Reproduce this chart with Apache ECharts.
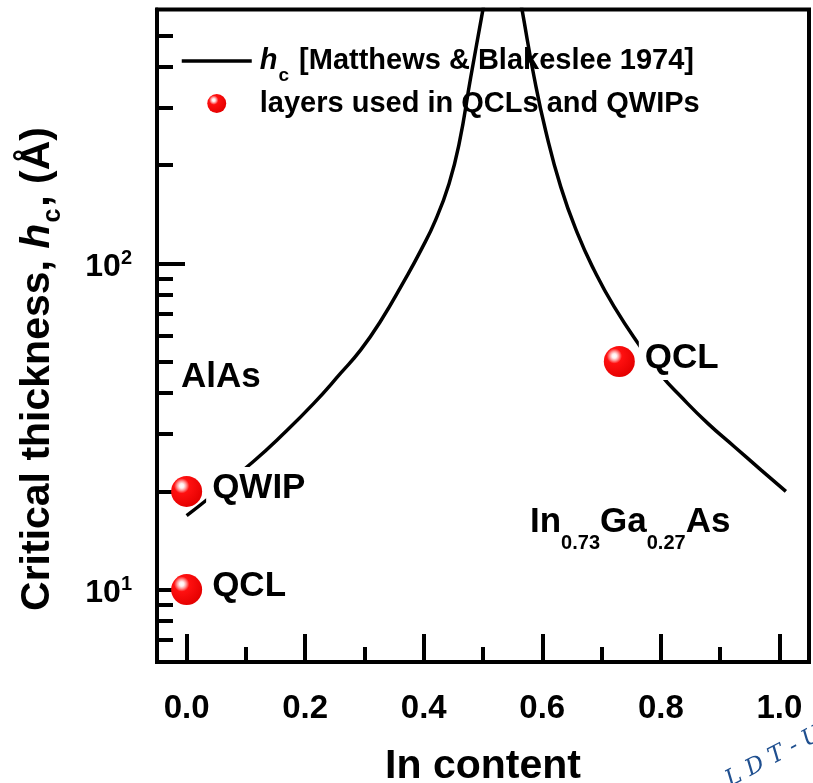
<!DOCTYPE html>
<html><head><meta charset="utf-8">
<script src="https://cdn.jsdelivr.net/npm/echarts@6/dist/echarts.min.js"></script>
<style>html,body{margin:0;padding:0;background:#fff}#c{width:813px;height:783px}</style>
</head><body><div id="c"></div>
<script>
const FONT = '"Liberation Sans", Arial, Helvetica, sans-serif';

// Matthews & Blakeslee critical thickness curve
const curveLeftX  = [0, 0.0405, 0.1126, 0.1586, 0.2149, 0.2599, 0.2937, 0.3274, 0.3668, 0.3949, 0.4203, 0.4427, 0.4596, 0.4793, 0.4991, 0.5072];
const curveLeftY  = [16.85, 19.26, 24.7, 29.46, 37.29, 46.06, 54.29, 66.59, 88.27, 109.4, 136.2, 175.5, 232, 371.8, 589, 711];
const curveRightX = [0.5585, 0.5666, 0.5862, 0.6059, 0.6312, 0.6594, 0.6874, 0.7212, 0.7691, 0.8, 0.8338, 0.8788, 0.9237, 0.9688, 1.011];
const curveRightY = [711, 589, 372.6, 254.1, 171.6, 123.5, 95.4, 73.65, 54.29, 45.5, 39.06, 32.38, 27.46, 23.29, 20.0];

// layers used in QCLs and QWIPs
const layerNames = ['QWIP', 'QCL', 'QCL'];
const layerX = [0, 0, 0.73];
const layerY = [20, 10, 50];

// ticks
const xMajorTicks = [0, 0.2, 0.4, 0.6, 0.8, 1.0];
const xMinorTicks = [0.1, 0.3, 0.5, 0.7, 0.9];
const yMajorTicks = [10, 100];
const yMinorTicks = [7, 8, 9, 20, 30, 40, 50, 60, 70, 80, 90, 200, 300, 400, 500];
const yMin = 6, yMax = 600;

const curveData = curveLeftX.map((x, i) => [x, curveLeftY[i]])
  .concat([[0.53, '-']])
  .concat(curveRightX.map((x, i) => [x, curveRightY[i]]));
const layerData = layerX.map((x, i) => ({ name: layerNames[i], value: [x, layerY[i]] }));

const sphere = {
  type: 'radial', x: 0.34, y: 0.32, r: 0.72,
  colorStops: [
    { offset: 0, color: '#ffffff' },
    { offset: 0.1, color: '#fff0f0' },
    { offset: 0.2, color: '#ff9c9c' },
    { offset: 0.34, color: '#ff1010' },
    { offset: 1, color: '#e40000' }
  ]
};

const L = Math.log10;
const chart = echarts.init(document.getElementById('c'), null, { renderer: 'canvas' });
chart.setOption({
  animation: false,
  backgroundColor: '#fff',
  grid: { left: 157, right: 4, top: 9.5, bottom: 121, outerBoundsMode: 'none', containLabel: false, show: true, borderColor: '#000', borderWidth: 4, backgroundColor: 'transparent' },
  legend: {
    orient: 'vertical', left: 180, top: 37, padding: 0, itemWidth: 70, itemHeight: 19, itemGap: 4,
    selectedMode: false, z: 3,
    data: [{ name: 'hc', itemStyle: { opacity: 0 }, lineStyle: { width: 3.5, color: '#000' } }, { name: 'layers used in QCLs and QWIPs' }],
    formatter: n => n === 'hc' ? '{i|h}{s|c}{n| [Matthews & Blakeslee 1974]}' : '{m|' + n + '}',
    textStyle: {
      color: '#000', fontFamily: FONT, fontWeight: 'bold', fontSize: 29, padding: [0, 0, 0, 3],
      rich: {
        n: { fontSize: 29, fontWeight: 'bold', fontFamily: FONT, color: '#000', lineHeight: 34, verticalAlign: 'middle' },
        i: { fontSize: 29, fontWeight: 'bold', fontStyle: 'italic', fontFamily: FONT, color: '#000', lineHeight: 34, verticalAlign: 'middle' },
        s: { fontSize: 19, fontWeight: 'bold', fontFamily: FONT, color: '#000', lineHeight: 19, padding: [29, 2, 0, 1] },
        m: { fontSize: 29, fontWeight: 'bold', fontFamily: FONT, color: '#000', lineHeight: 34 }
      }
    }
  },
  xAxis: [
    {
      type: 'value', min: -0.05, max: 1.05, position: 'bottom',
      axisLine: { show: true, onZero: false, lineStyle: { color: '#000', width: 4 } },
      axisTick: { show: true, inside: true, length: 28, customValues: xMajorTicks, lineStyle: { color: '#000', width: 4 } },
      axisLabel: { customValues: xMajorTicks, formatter: v => v.toFixed(1), fontSize: 33, fontWeight: 'bold', color: '#000', fontFamily: FONT, margin: 30 },
      splitLine: { show: false },
      name: 'In content', nameLocation: 'middle', nameGap: 84,
      nameTextStyle: { fontSize: 41, fontWeight: 'bold', color: '#000', fontFamily: FONT }
    },
    {
      type: 'value', min: -0.05, max: 1.05, position: 'bottom',
      axisLine: { show: false, onZero: false },
      axisTick: { show: true, inside: true, length: 15, customValues: xMinorTicks, lineStyle: { color: '#000', width: 4 } },
      axisLabel: { show: false }, splitLine: { show: false }
    }
  ],
  yAxis: [
    {
      type: 'log', logBase: 10, min: yMin, max: yMax, position: 'left',
      axisLine: { show: true, onZero: false, lineStyle: { color: '#000', width: 4 } },
      axisTick: { show: false }, axisLabel: { show: false }, splitLine: { show: false }, minorTick: { show: false }
    },
    {
      type: 'value', min: L(yMin), max: L(yMax), position: 'left',
      axisLine: { show: false, onZero: false },
      axisTick: { show: true, inside: true, length: 28, customValues: yMajorTicks.map(L), lineStyle: { color: '#000', width: 4 } },
      axisLabel: {
        customValues: yMajorTicks.map(L), margin: 25,
        formatter: v => '{b|10}{p|' + Math.round(v) + '}',
        rich: {
          b: { fontSize: 32, fontWeight: 'bold', fontFamily: FONT, color: '#000', lineHeight: 46, padding: [8, 0, 0, 0] },
          p: { fontSize: 20, fontWeight: 'bold', fontFamily: FONT, color: '#000', lineHeight: 18, verticalAlign: 'top', padding: [8, 0, 0, 0] }
        }
      },
      splitLine: { show: false }
    },
    {
      type: 'value', min: L(yMin), max: L(yMax), position: 'left',
      axisLine: { show: false, onZero: false },
      axisTick: { show: true, inside: true, length: 16, customValues: yMinorTicks.map(L), lineStyle: { color: '#000', width: 4 } },
      axisLabel: { show: false }, splitLine: { show: false }
    }
  ],
  series: [
    {
      name: 'hc', type: 'line', data: curveData, xAxisIndex: 0, yAxisIndex: 0,
      symbol: 'none', showSymbol: false, smooth: 0.5, connectNulls: false, clip: true, z: 5,
      lineStyle: { color: '#000', width: 3.5 }, itemStyle: { color: '#000' }
    },
    {
      name: 'layers used in QCLs and QWIPs', type: 'scatter', data: layerData, xAxisIndex: 0, yAxisIndex: 0,
      symbol: 'circle', symbolSize: 31, z: 6,
      itemStyle: { color: sphere, opacity: 1 },
      label: {
        show: true, position: 'right', distance: 4, formatter: p => p.name,
        fontSize: 35, fontWeight: 'bold', color: '#000', fontFamily: FONT,
        backgroundColor: '#fff', padding: [5, 3, 3, 6], offset: [0, -3]
      }
    }
  ],
  graphic: [
    {
      type: 'text', x: 38, y: 369, rotation: Math.PI / 2, z: 10,
      style: {
        text: '{n|Critical thickness, }{i|h}{s|c}{n|, (Å)}', align: 'center', verticalAlign: 'middle',
        rich: {
          n: { fontSize: 41, fontWeight: 'bold', fontFamily: FONT, fill: '#000', lineHeight: 46, verticalAlign: 'middle' },
          i: { fontSize: 41, fontWeight: 'bold', fontStyle: 'italic', fontFamily: FONT, fill: '#000', lineHeight: 46, verticalAlign: 'middle' },
          s: { fontSize: 25, fontWeight: 'bold', fontFamily: FONT, fill: '#000', lineHeight: 25, padding: [30, 2, 0, 1] }
        }
      }
    },
    {
      type: 'text', x: 181, y: 377, z: 10,
      style: { text: 'AlAs', fontSize: 35, fontWeight: 'bold', fontFamily: FONT, fill: '#000', align: 'left', verticalAlign: 'middle' }
    },
    {
      type: 'text', x: 530, y: 505, z: 10,
      style: {
        text: '{m|In}{s|0.73}{m|Ga}{s|0.27}{m|As}', align: 'left', verticalAlign: 'top',
        rich: {
          m: { fontSize: 35, fontWeight: 'bold', fontFamily: FONT, fill: '#000', lineHeight: 40, verticalAlign: 'top' },
          s: { fontSize: 20, fontWeight: 'bold', fontFamily: FONT, fill: '#000', lineHeight: 20, padding: [37, 0, 0, 0] }
        }
      }
    },
    {
      type: 'text', x: 774, y: 757, rotation: 0.48, z: 10,
      style: { text: 'L D T - U', fontSize: 23, fontStyle: 'italic', fontFamily: '"DejaVu Serif", serif', fill: '#1f4f8f', align: 'center', verticalAlign: 'middle' }
    }
  ]
});
</script>
</body></html>
